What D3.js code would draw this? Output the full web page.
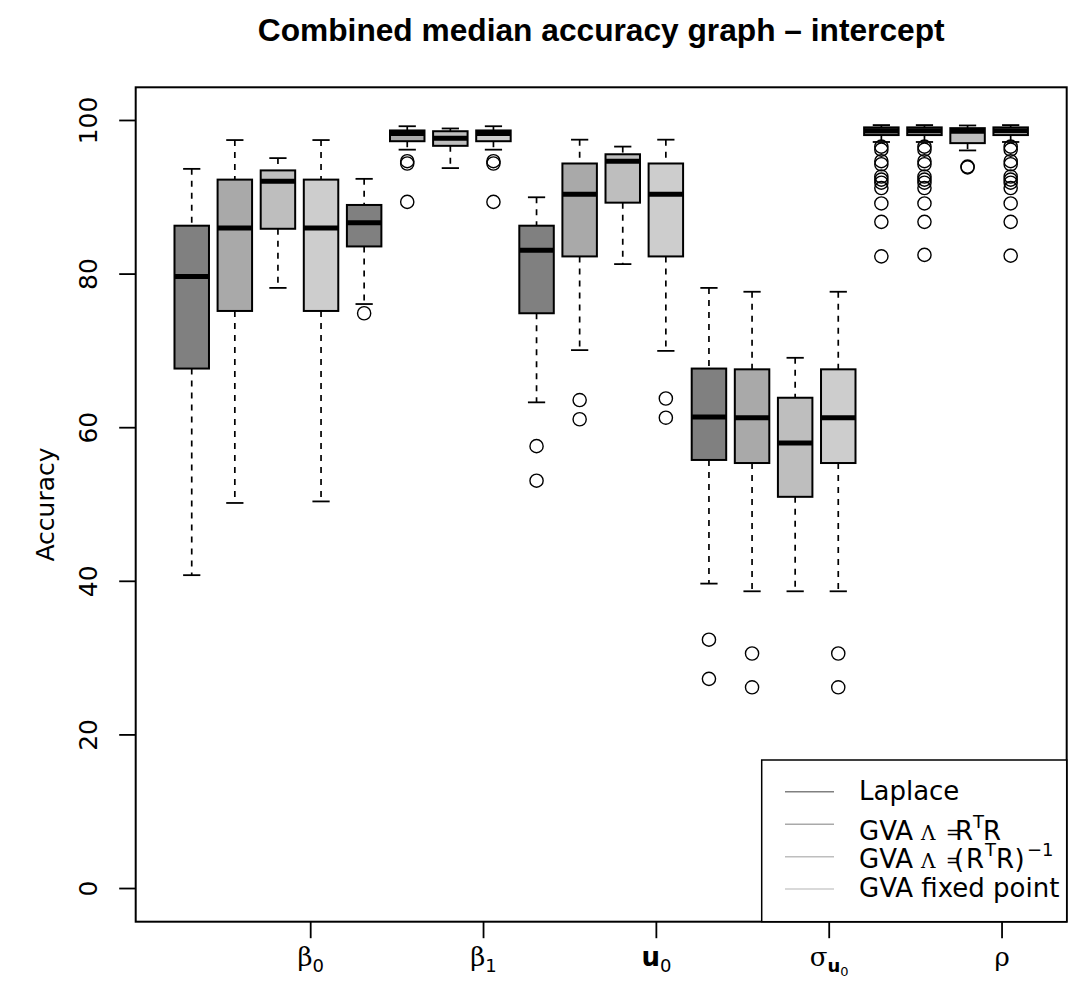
<!DOCTYPE html>
<html><head><meta charset="utf-8">
<script src="https://cdn.jsdelivr.net/npm/d3@7"></script>
<style>body{margin:0;background:#fff}</style>
</head><body>
<svg id="c" width="1071" height="986"></svg>
<script>
// ---- data ----
const methods = ["Laplace", "GVA RtR", "GVA (RtR)^-1", "GVA fixed point"];
const variables = ["beta0", "beta1", "u0", "sigma_u0", "rho"];
// per-box stats, box order 1..20
const whiskerLow  = [40.8, 50.2, 78.2, 50.4, 76.1, 96.2, 93.8, 96.2, 63.3, 70.1, 81.3, 70.0, 39.7, 38.7, 38.7, 38.7, 97.2, 97.2, 96.1, 97.2];
const q1          = [67.7, 75.2, 85.9, 75.2, 83.6, 97.3, 96.7, 97.3, 74.9, 82.3, 89.3, 82.3, 55.8, 55.4, 51.0, 55.4, 98.1, 98.1, 97.05, 98.1];
const median      = [79.7, 86.0, 92.1, 86.0, 86.7, 98.3, 97.7, 98.3, 83.1, 90.4, 94.7, 90.4, 61.4, 61.3, 58.0, 61.3, 98.65, 98.65, 98.6, 98.65];
const q3          = [86.3, 92.3, 93.5, 92.3, 89.0, 98.7, 98.6, 98.7, 86.3, 94.4, 95.6, 94.4, 67.7, 67.6, 63.9, 67.6, 99.1, 99.1, 99.0, 99.1];
const whiskerHigh = [93.7, 97.45, 95.1, 97.45, 92.4, 99.25, 98.96, 99.25, 90.0, 97.5, 96.6, 97.5, 78.2, 77.7, 69.1, 77.7, 99.4, 99.4, 99.35, 99.4];
const outliers = [
  [], [], [], [], [74.9],
  [94.7, 94.4, 89.4], [], [94.7, 94.4, 89.4],
  [57.6, 53.1], [63.6, 61.1], [], [63.8, 61.3],
  [32.4, 27.3], [30.6, 26.2], [], [30.6, 26.2],
  [96.6, 96.2, 94.7, 94.3, 92.7, 92.3, 91.9, 91.2, 89.2, 86.8, 82.3],
  [96.6, 96.2, 94.7, 94.3, 92.7, 92.3, 91.9, 91.2, 89.2, 86.8, 82.5],
  [94.0, 93.9],
  [96.6, 96.2, 94.7, 94.3, 92.7, 92.3, 91.9, 91.2, 89.2, 86.8, 82.4]
];
const yTicks = [0, 20, 40, 60, 80, 100];
const xTickPos = [3.76, 7.77, 11.78, 15.79, 19.80];
const fills = ["#808080", "#a9a9a9", "#bebebe", "#cdcdcd"];
const titleText = "Combined median accuracy graph \u2013 intercept";
const yTitle = "Accuracy";

// ---- layout ----
const svg = d3.select("#c");
const L = 135.7, R = 1066.7, T = 87.3, B = 921.7;
const x = d3.scaleLinear().domain([-0.3, 21.3]).range([L, R]);
const y = d3.scaleLinear().domain([-4.32, 104.32]).range([B, T]);
const sans = "'DejaVu Sans', sans-serif";
const serif = "'DejaVu Serif', 'Liberation Serif', serif";

const boxes = d3.range(20).map(i => ({
  pos: i + 1, lo: whiskerLow[i], q1: q1[i], med: median[i], q3: q3[i], hi: whiskerHigh[i],
  out: outliers[i], fill: fills[i % 4]
}));
const bw = 0.8;
const hw = x(bw / 2) - x(0);

const g = svg.append("g");
const bg = g.selectAll("g.box").data(boxes).join("g");
// whiskers
bg.append("line").attr("x1", d => x(d.pos)).attr("x2", d => x(d.pos))
  .attr("y1", d => y(d.hi)).attr("y2", d => y(d.q3))
  .attr("stroke", "#000").attr("stroke-width", 1.7).attr("stroke-dasharray", "6,6");
bg.append("line").attr("x1", d => x(d.pos)).attr("x2", d => x(d.pos))
  .attr("y1", d => y(d.q1)).attr("y2", d => y(d.lo))
  .attr("stroke", "#000").attr("stroke-width", 1.7).attr("stroke-dasharray", "6,6");
// staples
["hi", "lo"].forEach(k => {
  bg.append("line").attr("x1", d => x(d.pos) - hw / 2).attr("x2", d => x(d.pos) + hw / 2)
    .attr("y1", d => y(d[k])).attr("y2", d => y(d[k]))
    .attr("stroke", "#000").attr("stroke-width", 1.8);
});
// boxes
bg.append("rect").attr("x", d => x(d.pos) - hw).attr("width", 2 * hw)
  .attr("y", d => y(d.q3)).attr("height", d => y(d.q1) - y(d.q3))
  .attr("fill", d => d.fill).attr("stroke", "#000").attr("stroke-width", 2);
// medians
bg.append("line").attr("x1", d => x(d.pos) - hw).attr("x2", d => x(d.pos) + hw)
  .attr("y1", d => y(d.med)).attr("y2", d => y(d.med))
  .attr("stroke", "#000").attr("stroke-width", 5);
// outliers
bg.each(function(d) {
  d3.select(this).selectAll("circle").data(d.out).join("circle")
    .attr("cx", x(d.pos)).attr("cy", v => y(v)).attr("r", 6.6)
    .attr("fill", "none").attr("stroke", "#000").attr("stroke-width", 1.4);
});

// frame
svg.append("rect").attr("x", L).attr("y", T).attr("width", R - L).attr("height", B - T)
  .attr("fill", "none").attr("stroke", "#000").attr("stroke-width", 2);

// y axis
const ya = svg.append("g");
ya.selectAll("line").data(yTicks).join("line")
  .attr("x1", L - 16.5).attr("x2", L).attr("y1", d => y(d)).attr("y2", d => y(d))
  .attr("stroke", "#000").attr("stroke-width", 1.8);
ya.selectAll("text").data(yTicks).join("text")
  .attr("transform", d => `translate(97,${y(d)}) rotate(-90)`)
  .attr("text-anchor", "middle").attr("font-family", sans).attr("font-size", 25)
  .text(d => d);
svg.append("text").attr("transform", `translate(54,${(T + B) / 2}) rotate(-90)`)
  .attr("text-anchor", "middle").attr("font-family", sans).attr("font-size", 25)
  .text(yTitle);

// x axis ticks
svg.selectAll("line.xt").data(xTickPos).join("line").attr("class", "xt")
  .attr("x1", d => x(d)).attr("x2", d => x(d)).attr("y1", B).attr("y2", B + 16.5)
  .attr("stroke", "#000").attr("stroke-width", 1.8);
// x labels (plotmath-like)
const xLabelParts = [
  [{t: "\u03b2", f: serif, s: 26, dy: 0}, {t: "0", f: sans, s: 18, dy: 6}],
  [{t: "\u03b2", f: serif, s: 26, dy: 0}, {t: "1", f: sans, s: 18, dy: 6}],
  [{t: "u", f: sans, s: 26, dy: 0, w: "bold"}, {t: "0", f: sans, s: 18, dy: 6}],
  [{t: "\u03c3", f: serif, s: 26, dy: 0}, {t: "u", f: sans, s: 18, dy: 6, w: "bold"}, {t: "0", f: sans, s: 13, dy: 4}],
  [{t: "\u03c1", f: serif, s: 26, dy: 0}]
];
xLabelParts.forEach((parts, i) => {
  const t = svg.append("text").attr("x", x(xTickPos[i])).attr("y", 966)
    .attr("text-anchor", "middle");
  parts.forEach(p => {
    t.append("tspan").attr("font-family", p.f).attr("font-size", p.s)
      .attr("font-weight", p.w || "normal").attr("dy", p.dy).text(p.t);
  });
});

// title
svg.append("text").attr("x", (L + R) / 2).attr("y", 41).attr("text-anchor", "middle")
  .attr("font-family", "'Liberation Sans', Arial, sans-serif").attr("font-weight", "bold")
  .attr("font-size", 31.7).text(titleText);

// legend
const lg = svg.append("g");
lg.append("rect").attr("x", 761.7).attr("y", 760).attr("width", R - 761.7).attr("height", B - 760)
  .attr("fill", "#fff").attr("stroke", "#000").attr("stroke-width", 1.5);
const lineY = [791.7, 824.3, 856.7, 889];
lg.selectAll("line").data(fills).join("line")
  .attr("x1", 785).attr("x2", 834).attr("y1", (d, i) => lineY[i]).attr("y2", (d, i) => lineY[i])
  .attr("stroke", d => d).attr("stroke-width", 1.5);
const legendRows = [
  {y: 800, parts: [{t: methods[0], x: 859, s: 26, f: sans}]},
  {y: 839.5, parts: [
    {t: "GVA", x: 859, s: 26, f: sans}, {t: "\u039b", x: 921, s: 20, f: serif},
    {t: "=", x: 946, s: 17, f: sans, dy: -2}, {t: "R", x: 955, s: 26, f: sans},
    {t: "T", x: 973, s: 18, f: sans, dy: -12}, {t: "R", x: 983, s: 26, f: sans}]},
  {y: 868, parts: [
    {t: "GVA", x: 859, s: 26, f: sans}, {t: "\u039b", x: 921, s: 20, f: serif},
    {t: "=", x: 946, s: 17, f: sans, dy: -2}, {t: "(", x: 954, s: 26, f: sans}, {t: "R", x: 966, s: 26, f: sans},
    {t: "T", x: 985, s: 18, f: sans, dy: -12}, {t: "R", x: 996, s: 26, f: sans},
    {t: ")", x: 1014.5, s: 26, f: sans}, {t: "\u22121", x: 1027, s: 18, f: sans, dy: -12}]},
  {y: 897.3, parts: [{t: methods[3], x: 859, s: 26, f: sans}]}
];
legendRows.forEach(r => {
  const t = lg.append("text").attr("y", r.y);
  r.parts.forEach(p => {
    t.append("tspan").attr("x", p.x).attr("y", r.y + (p.dy || 0))
      .attr("font-family", p.f).attr("font-size", p.s).text(p.t);
  });
});
</script>
</body></html>
